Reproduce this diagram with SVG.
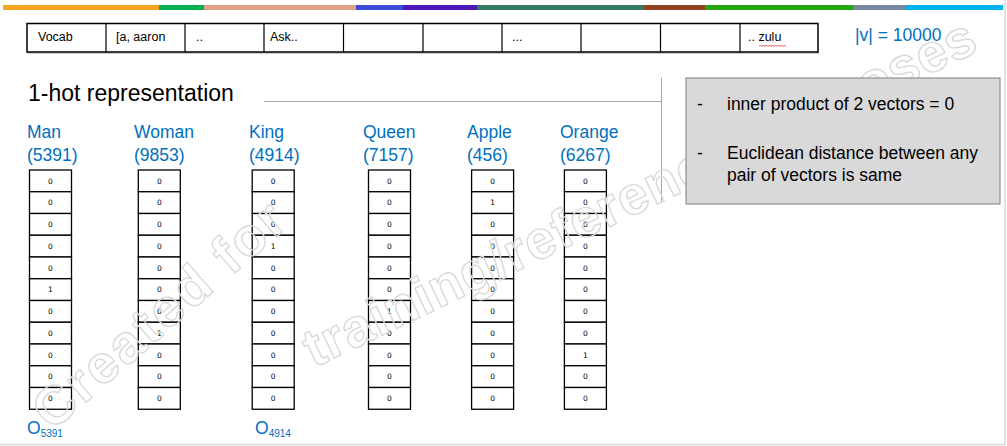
<svg xmlns="http://www.w3.org/2000/svg" xmlns:xlink="http://www.w3.org/1999/xlink" width="1007" height="446" viewBox="0 0 1007 446">
<style>
.vt{font-family:"Liberation Sans",Arial,sans-serif;font-size:12.5px;fill:#000}
.bl{font-family:"Liberation Sans",Arial,sans-serif;font-size:17.5px;fill:#0070C0}
.bx{font-family:"Liberation Sans",Arial,sans-serif;font-size:17.5px;fill:#000}
.d{font-family:"DejaVu Sans",sans-serif;font-size:7.5px;fill:#000;text-anchor:middle}
.cell{fill:#fff;stroke:#000;stroke-width:1.3}
.wm{font-family:"Liberation Sans",Arial,sans-serif;font-weight:bold;font-size:54px;fill:none;stroke:#dadada;stroke-width:1.4}
.gl{stroke:#a6a6a6;stroke-width:1;fill:none}
</style>
<defs>
<g id="grid">
<rect class="cell" x="0" y="0" width="42" height="21.75"/>
<rect class="cell" x="0" y="21.75" width="42" height="21.75"/>
<rect class="cell" x="0" y="43.5" width="42" height="21.75"/>
<rect class="cell" x="0" y="65.25" width="42" height="21.75"/>
<rect class="cell" x="0" y="87" width="42" height="21.75"/>
<rect class="cell" x="0" y="108.75" width="42" height="21.75"/>
<rect class="cell" x="0" y="130.5" width="42" height="21.75"/>
<rect class="cell" x="0" y="152.25" width="42" height="21.75"/>
<rect class="cell" x="0" y="174" width="42" height="21.75"/>
<rect class="cell" x="0" y="195.75" width="42" height="21.75"/>
<rect class="cell" x="0" y="217.5" width="42" height="21.75"/>
</g>
</defs>
<rect x="0" y="0" width="1007" height="446" fill="#ffffff"/>
<path d="M1005 0V444.5H0" fill="none" stroke="#d9d9d9" stroke-width="1.5"/>
<g id="topbar">
<rect x="3" y="5" width="157" height="5" fill="#F6A623"/>
<rect x="159" y="5" width="45" height="5" fill="#00B050"/>
<rect x="204" y="5" width="153" height="5" fill="#E0A284"/>
<rect x="356" y="5" width="48" height="5" fill="#3C4CD8"/>
<rect x="403" y="5" width="74" height="5" fill="#4E18B8"/>
<rect x="477" y="5" width="167" height="5" fill="#367866"/>
<rect x="644" y="5" width="61" height="5" fill="#904320"/>
<rect x="705" y="5" width="148" height="5" fill="#26A612"/>
<rect x="853" y="5" width="54" height="5" fill="#7689A0"/>
<rect x="906" y="5" width="97" height="5" fill="#00B2F0"/>
</g>
<g id="vocab">
<line x1="27" y1="53" x2="819" y2="53" stroke="#9a9a9a" stroke-width="1"/>
<rect x="27" y="23.5" width="791" height="28.5" fill="#fff" stroke="#000" stroke-width="1.5"/>
<path d="M106 23.5V52M185 23.5V52M264 23.5V52M343.5 23.5V52M423 23.5V52M502 23.5V52M581 23.5V52M660.5 23.5V52M740 23.5V52" stroke="#000" stroke-width="1.2"/>
<text class="vt" x="38" y="41">Vocab</text>
<text class="vt" x="116" y="41">[a, aaron</text>
<text class="vt" x="196" y="41">..</text>
<text class="vt" x="270" y="41">Ask..</text>
<text class="vt" x="512" y="41">...</text>
<text class="vt" x="748" y="41">.. zulu</text>
<path d="M759 46.5l1.5-1.5l1.5 1.5l1.5-1.5l1.5 1.5l1.5-1.5l1.5 1.5l1.5-1.5l1.5 1.5l1.5-1.5l1.5 1.5l1.5-1.5l1.5 1.5l1.5-1.5l1.5 1.5l1.5-1.5l1.5 1.5l1.5-1.5l1.5 1.5" fill="none" stroke="#e02020" stroke-width="0.8"/>
</g>
<text id="vsize" class="bl" x="855" y="41">|v| = 10000</text>
<text id="title" x="28" y="101" font-family="Liberation Sans, Arial, sans-serif" font-size="23" fill="#000">1-hot representation</text>
<g id="connectors">
<line class="gl" x1="264" y1="101.5" x2="661.5" y2="101.5"/>
<line class="gl" x1="661.5" y1="78" x2="661.5" y2="203"/>
</g>
<g id="col-man">
<text class="bl" x="27" y="138">Man</text>
<text class="bl" x="27" y="161">(5391)</text>
<g transform="translate(29.5,170)">
<use xlink:href="#grid"/>
<text class="d" x="21" y="13.6">0</text><text class="d" x="21" y="35.3">0</text><text class="d" x="21" y="57.1">0</text><text class="d" x="21" y="78.8">0</text><text class="d" x="21" y="100.6">0</text><text class="d" x="21" y="122.3">1</text><text class="d" x="21" y="144.1">0</text><text class="d" x="21" y="165.8">0</text><text class="d" x="21" y="187.6">0</text><text class="d" x="21" y="209.3">0</text><text class="d" x="21" y="231.1">0</text>
</g>
<text class="bl" x="27" y="434" font-size="14.5">O<tspan font-size="10" dy="3">5391</tspan></text>
</g>
<g id="col-woman">
<text class="bl" x="134" y="138">Woman</text>
<text class="bl" x="134" y="161">(9853)</text>
<g transform="translate(138.3,170)">
<use xlink:href="#grid"/>
<text class="d" x="21" y="13.6">0</text><text class="d" x="21" y="35.3">0</text><text class="d" x="21" y="57.1">0</text><text class="d" x="21" y="78.8">0</text><text class="d" x="21" y="100.6">0</text><text class="d" x="21" y="122.3">0</text><text class="d" x="21" y="144.1">0</text><text class="d" x="21" y="165.8">1</text><text class="d" x="21" y="187.6">0</text><text class="d" x="21" y="209.3">0</text><text class="d" x="21" y="231.1">0</text>
</g>
</g>
<g id="col-king">
<text class="bl" x="249" y="138">King</text>
<text class="bl" x="249" y="161">(4914)</text>
<g transform="translate(252.2,170)">
<use xlink:href="#grid"/>
<text class="d" x="21" y="13.6">0</text><text class="d" x="21" y="35.3">0</text><text class="d" x="21" y="57.1">0</text><text class="d" x="21" y="78.8">1</text><text class="d" x="21" y="100.6">0</text><text class="d" x="21" y="122.3">0</text><text class="d" x="21" y="144.1">0</text><text class="d" x="21" y="165.8">0</text><text class="d" x="21" y="187.6">0</text><text class="d" x="21" y="209.3">0</text><text class="d" x="21" y="231.1">0</text>
</g>
<text class="bl" x="255" y="434" font-size="14.5">O<tspan font-size="10" dy="3">4914</tspan></text>
</g>
<g id="col-queen">
<text class="bl" x="363" y="138">Queen</text>
<text class="bl" x="363" y="161">(7157)</text>
<g transform="translate(368.5,170)">
<use xlink:href="#grid"/>
<text class="d" x="21" y="13.6">0</text><text class="d" x="21" y="35.3">0</text><text class="d" x="21" y="57.1">0</text><text class="d" x="21" y="78.8">0</text><text class="d" x="21" y="100.6">0</text><text class="d" x="21" y="122.3">0</text><text class="d" x="21" y="144.1">1</text><text class="d" x="21" y="165.8">0</text><text class="d" x="21" y="187.6">0</text><text class="d" x="21" y="209.3">0</text><text class="d" x="21" y="231.1">0</text>
</g>
</g>
<g id="col-apple">
<text class="bl" x="467" y="138">Apple</text>
<text class="bl" x="467" y="161">(456)</text>
<g transform="translate(471.6,170)">
<use xlink:href="#grid"/>
<text class="d" x="21" y="13.6">0</text><text class="d" x="21" y="35.3">1</text><text class="d" x="21" y="57.1">0</text><text class="d" x="21" y="78.8">0</text><text class="d" x="21" y="100.6">0</text><text class="d" x="21" y="122.3">0</text><text class="d" x="21" y="144.1">0</text><text class="d" x="21" y="165.8">0</text><text class="d" x="21" y="187.6">0</text><text class="d" x="21" y="209.3">0</text><text class="d" x="21" y="231.1">0</text>
</g>
</g>
<g id="col-orange">
<text class="bl" x="560" y="138">Orange</text>
<text class="bl" x="560" y="161">(6267)</text>
<g transform="translate(564.4,170)">
<use xlink:href="#grid"/>
<text class="d" x="21" y="13.6">0</text><text class="d" x="21" y="35.3">0</text><text class="d" x="21" y="57.1">0</text><text class="d" x="21" y="78.8">0</text><text class="d" x="21" y="100.6">0</text><text class="d" x="21" y="122.3">0</text><text class="d" x="21" y="144.1">0</text><text class="d" x="21" y="165.8">0</text><text class="d" x="21" y="187.6">1</text><text class="d" x="21" y="209.3">0</text><text class="d" x="21" y="231.1">0</text>
</g>
</g>
<g id="watermark">
<text class="wm" transform="translate(52,432) rotate(-41)" textLength="315">Created for</text>
<text class="wm" transform="translate(314,368) rotate(-25.5)" textLength="738">training/reference purposes</text>
</g>
<g id="notes">
<rect x="686" y="78" width="314" height="126" fill="#D9D9D9" stroke="#7f7f7f" stroke-width="1"/>
<text class="bx" x="697" y="110">-</text>
<text class="bx" x="727" y="110">inner product of 2 vectors = 0</text>
<text class="bx" x="697" y="159">-</text>
<text class="bx" x="727" y="159">Euclidean distance between any</text>
<text class="bx" x="727" y="181">pair of vectors is same</text>
</g>
</svg>
